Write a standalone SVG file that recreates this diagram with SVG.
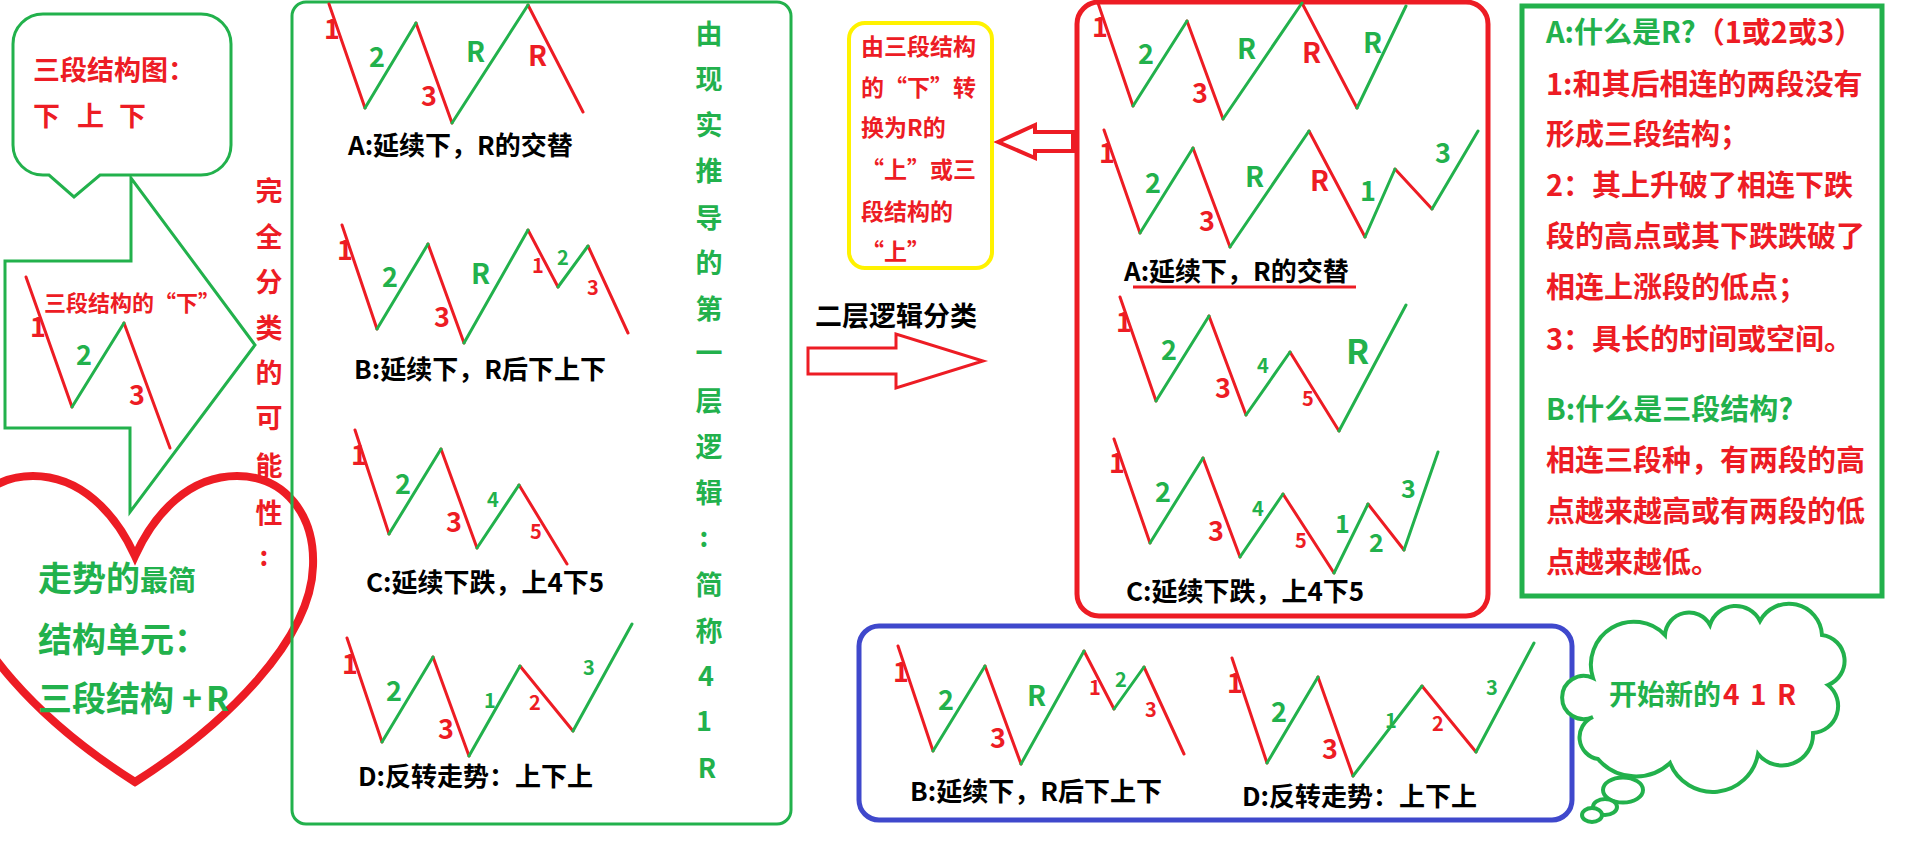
<svg xmlns="http://www.w3.org/2000/svg" width="1914" height="852" viewBox="0 0 1914 852">
<defs>
<style>
.r{stroke:#ed1c24;stroke-width:3;fill:none;stroke-linecap:round;stroke-linejoin:round}
.g{stroke:#22b14c;stroke-width:3;fill:none;stroke-linecap:round;stroke-linejoin:round}
text{font-family:"Noto Sans CJK SC","Liberation Sans",sans-serif;font-weight:bold}
.fr{fill:#ed1c24}
.fg{fill:#22b14c}
.fk{fill:#000000}
.n{font-size:27px}
.sm{font-size:20px}
.md{font-size:25px}
.cap{font-size:26px;fill:#000000}
</style>
</defs>
<rect width="1914" height="852" fill="#ffffff"/>

<g id="connectors">
<path d="M5,261 H131 V178 L255,345 L130,512 V428 H5 Z" fill="#ffffff" stroke="#22b14c" stroke-width="3" stroke-linejoin="miter"/>
<path d="M998,142 L1035,125 V132 H1073 V151 H1035 V158 Z" fill="#ffffff" stroke="#ed1c24" stroke-width="4"/>
<path d="M808,348 H896 V334 L983,361 L896,388 V374 H808 Z" fill="#ffffff" stroke="#ed1c24" stroke-width="3"/>
</g>

<g id="callout">
<path d="M43,14 H201 A30,30 0 0 1 231,44 V145 A30,30 0 0 1 201,175 H100 L74,197 L49,175 H43 A30,30 0 0 1 13,145 V44 A30,30 0 0 1 43,14 Z" fill="#ffffff" stroke="#22b14c" stroke-width="3"/>
<text class="fr" font-size="27" x="33" y="80">三段结构图：</text>
<text class="fr" font-size="27" x="33 77 119" y="126">下上下</text>
</g>

<g id="arrow-content">
<text class="fr" font-size="22" x="44" y="311">三段结构的“下”</text>
<path class="r" d="M26,277L72,407 M124,323L170,448"/>
<path class="g" d="M72,407L124,323"/>
<text class="fr n" x="30" y="337">1</text>
<text class="fg n" x="76" y="365">2</text>
<text class="fr n" x="129" y="405">3</text>
</g>

<g id="heart">
<path d="M135,556 C155,512 190,476 237,476 C285,476 315,515 313,566 C311,640 225,725 135,782 C45,725 -41,640 -43,566 C-45,515 -15,476 33,476 C80,476 115,512 135,556 Z" fill="none" stroke="#ed1c24" stroke-width="8"/>
<text class="fg" x="38" y="591"><tspan font-size="34">走势的</tspan><tspan font-size="28">最简</tspan></text>
<text class="fg" font-size="34" x="38" y="652">结构单元：</text>
<text class="fg" font-size="34" x="38" y="711">三段结构<tspan x="182">+</tspan><tspan x="206">R</tspan></text>
</g>

<g id="vertical-label-1">
<text class="fr" font-size="27" text-anchor="middle" x="269 269 269 269 269 269 269 269 264" y="201 247 292 338 383 428 476 523 566">完全分类的可能性:</text>
</g>

<g id="first-layer-box">
<rect x="292" y="2" width="499" height="822" rx="14" fill="none" stroke="#22b14c" stroke-width="3"/>
<!-- A -->
<path class="r" d="M329,4L365,108 M416,23L452,123 M528,5L583,112"/>
<path class="g" d="M365,108L416,23 M452,123L528,5"/>
<text class="fr n" x="324" y="39">1</text>
<text class="fg n" x="369" y="67">2</text>
<text class="fr n" x="421" y="106">3</text>
<text class="fg" font-size="28" x="466" y="62">R</text>
<text class="fr" font-size="28" x="528" y="66">R</text>
<text class="cap" x="348" y="155">A:延续下，R的交替</text>
<!-- B -->
<path class="r" d="M342,225L377,329 M428,244L464,343 M528,230L558,287 M588,246L628,333"/>
<path class="g" d="M377,329L428,244 M464,343L528,230 M558,287L588,246"/>
<text class="fr n" x="337" y="260">1</text>
<text class="fg n" x="382" y="287">2</text>
<text class="fr n" x="434" y="327">3</text>
<text class="fg" font-size="28" x="471" y="284">R</text>
<text class="fr sm" x="532" y="273">1</text>
<text class="fg sm" x="557" y="265">2</text>
<text class="fr sm" x="587" y="295">3</text>
<text class="cap" x="354" y="379">B:延续下，R后下上下</text>
<!-- C -->
<path class="r" d="M355,430L389,534 M441,449L477,548 M519,485L567,564"/>
<path class="g" d="M389,534L441,449 M477,548L519,485"/>
<text class="fr n" x="351" y="465">1</text>
<text class="fg n" x="395" y="494">2</text>
<text class="fr n" x="446" y="532">3</text>
<text class="fg sm" x="487" y="507">4</text>
<text class="fr sm" x="530" y="539">5</text>
<text class="cap" x="366" y="592">C:延续下跌，上4下5</text>
<!-- D -->
<path class="r" d="M347,638L382,742 M433,657L469,756 M520,666L573,731"/>
<path class="g" d="M382,742L433,657 M469,756L520,666 M573,731L632,624"/>
<text class="fr n" x="342" y="674">1</text>
<text class="fg n" x="386" y="701">2</text>
<text class="fr n" x="438" y="739">3</text>
<text class="fg sm" x="484" y="708">1</text>
<text class="fr sm" x="529" y="710">2</text>
<text class="fg sm" x="583" y="675">3</text>
<text class="cap" x="358" y="786">D:反转走势：上下上</text>
</g>

<g id="vertical-label-2">
<text class="fg" font-size="27" text-anchor="middle" x="709 709 709 709 709 709 709 709 709 709 709 704 709 709 706 704 707" y="44 89 135 181 228 273 319 363 411 457 503 547 595 641 686 731 778">由现实推导的第一层逻辑:简称41R</text>
</g>

<g id="yellow-note">
<rect x="849" y="23" width="143" height="245" rx="16" fill="#ffffff" stroke="#fff200" stroke-width="4"/>
<text class="fr" font-size="23" x="861" y="55">由三段结构</text>
<text class="fr" font-size="23" x="861" y="96">的“下”转</text>
<text class="fr" font-size="23" x="861" y="136">换为R的</text>
<text class="fr" font-size="23" x="861" y="178">“上”或三</text>
<text class="fr" font-size="23" x="861" y="220">段结构的</text>
<text class="fr" font-size="23" x="861" y="260">“上”</text>
</g>

<g id="second-layer-label">
<text class="fk" font-size="27" x="815" y="326">二层逻辑分类</text>
</g>

<g id="second-layer-box">
<rect x="1077" y="2" width="411" height="614" rx="22" fill="none" stroke="#ed1c24" stroke-width="5"/>
<!-- row 1 -->
<path class="r" d="M1098,3L1133,106 M1187,21L1223,119 M1302,3L1357,108"/>
<path class="g" d="M1133,106L1187,21 M1223,119L1302,3 M1357,108L1406,6"/>
<text class="fr n" x="1092" y="37">1</text>
<text class="fg n" x="1138" y="64">2</text>
<text class="fr n" x="1192" y="103">3</text>
<text class="fg" font-size="28" x="1237" y="59">R</text>
<text class="fr" font-size="28" x="1302" y="63">R</text>
<text class="fg" font-size="28" x="1363" y="53">R</text>
<!-- row 2 -->
<path class="r" d="M1104,130L1140,233 M1193,148L1230,247 M1309,131L1365,237 M1395,169L1432,209"/>
<path class="g" d="M1140,233L1193,148 M1230,247L1309,131 M1365,237L1395,169 M1432,209L1478,131"/>
<text class="fr n" x="1099" y="163">1</text>
<text class="fg n" x="1145" y="193">2</text>
<text class="fr n" x="1199" y="231">3</text>
<text class="fg" font-size="28" x="1245" y="187">R</text>
<text class="fr" font-size="28" x="1310" y="191">R</text>
<text class="fg n" x="1360" y="201">1</text>
<text class="fg n" x="1435" y="163">3</text>
<text class="cap" x="1124" y="281">A:延续下，R的交替</text>
<path d="M1133,287 H1356" stroke="#ed1c24" stroke-width="3"/>
<!-- row 3 -->
<path class="r" d="M1120,297L1156,401 M1209,316L1246,415 M1290,352L1339,431"/>
<path class="g" d="M1156,401L1209,316 M1246,415L1290,352 M1339,431L1406,305"/>
<text class="fr n" x="1116" y="332">1</text>
<text class="fg n" x="1161" y="360">2</text>
<text class="fr n" x="1215" y="398">3</text>
<text class="fg sm" x="1257" y="373">4</text>
<text class="fr sm" x="1302" y="406">5</text>
<text class="fg" font-size="34" x="1346" y="364">R</text>
<!-- row 4 -->
<path class="r" d="M1114,439L1150,543 M1203,458L1240,557 M1283,494L1334,573 M1368,504L1404,550"/>
<path class="g" d="M1150,543L1203,458 M1240,557L1283,494 M1334,573L1368,504 M1404,550L1438,452"/>
<text class="fr n" x="1109" y="473">1</text>
<text class="fg n" x="1155" y="502">2</text>
<text class="fr n" x="1208" y="541">3</text>
<text class="fg sm" x="1252" y="516">4</text>
<text class="fr sm" x="1295" y="548">5</text>
<text class="fg md" x="1335" y="533">1</text>
<text class="fg md" x="1369" y="552">2</text>
<text class="fg md" x="1401" y="498">3</text>
<text class="cap" x="1126" y="601">C:延续下跌，上4下5</text>
</g>

<g id="bd-box">
<rect x="859" y="626" width="713" height="194" rx="20" fill="none" stroke="#3f48cc" stroke-width="5"/>
<path class="r" d="M898,646L933,751 M985,666L1021,764 M1084,651L1114,709 M1144,667L1184,754"/>
<path class="g" d="M933,751L985,666 M1021,764L1084,651 M1114,709L1144,667"/>
<text class="fr n" x="893" y="682">1</text>
<text class="fg n" x="938" y="710">2</text>
<text class="fr n" x="990" y="748">3</text>
<text class="fg" font-size="28" x="1027" y="706">R</text>
<text class="fr sm" x="1089" y="695">1</text>
<text class="fg sm" x="1115" y="687">2</text>
<text class="fr sm" x="1145" y="717">3</text>
<text class="cap" x="910" y="801">B:延续下，R后下上下</text>
<path class="r" d="M1232,658L1267,763 M1318,677L1353,776 M1422,686L1476,752"/>
<path class="g" d="M1267,763L1318,677 M1353,776L1422,686 M1476,752L1534,643"/>
<text class="fr n" x="1227" y="693">1</text>
<text class="fg n" x="1271" y="722">2</text>
<text class="fr n" x="1322" y="759">3</text>
<text class="fg sm" x="1385" y="728">1</text>
<text class="fr sm" x="1432" y="731">2</text>
<text class="fg sm" x="1486" y="695">3</text>
<text class="cap" x="1242" y="806">D:反转走势：上下上</text>
</g>

<g id="definition-box">
<rect x="1522" y="6" width="360" height="590" fill="none" stroke="#22b14c" stroke-width="5"/>
<text font-size="29" x="1546" y="43"><tspan class="fg">A:什么是R?</tspan><tspan class="fr">（1或2或3）</tspan></text>
<text class="fr" font-size="29" x="1546" y="95">1:和其后相连的两段没有</text>
<text class="fr" font-size="29" x="1546" y="145">形成三段结构；</text>
<text class="fr" font-size="29" x="1546" y="196">2：其上升破了相连下跌</text>
<text class="fr" font-size="29" x="1546" y="247">段的高点或其下跌跌破了</text>
<text class="fr" font-size="29" x="1546" y="298">相连上涨段的低点；</text>
<text class="fr" font-size="29" x="1546" y="350">3：具长的时间或空间。</text>
<text class="fg" font-size="29" x="1546" y="420">B:什么是三段结构?</text>
<text class="fr" font-size="29" x="1546" y="471">相连三段种，有两段的高</text>
<text class="fr" font-size="29" x="1546" y="522">点越来越高或有两段的低</text>
<text class="fr" font-size="29" x="1546" y="573">点越来越低。</text>
</g>

<g id="cloud">
<path d="M1593,678 A43,43 0 0 1 1665,635 A24,24 0 0 1 1710,625 A27,27 0 0 1 1760,621 A33,33 0 0 1 1822,635 A26,26 0 0 1 1828,685 A27,27 0 0 1 1813,733 A31,31 0 0 1 1758,754 A46,46 0 0 1 1670,763 A50,50 0 0 1 1598,759 A22,22 0 0 1 1593,717 A21.6,21.6 0 1 1 1593,678 Z" fill="#ffffff" stroke="#22b14c" stroke-width="4"/>
<ellipse cx="1623" cy="790" rx="20" ry="12.5" fill="#ffffff" stroke="#22b14c" stroke-width="4"/>
<ellipse cx="1605" cy="807" rx="12" ry="8" fill="#ffffff" stroke="#22b14c" stroke-width="4"/>
<ellipse cx="1592" cy="815" rx="10" ry="7" fill="#ffffff" stroke="#22b14c" stroke-width="4"/>
<text font-size="28" x="1609" y="705"><tspan class="fg">开始新的</tspan><tspan class="fr" x="1723 1750 1777">41R</tspan></text>
</g>
</svg>
